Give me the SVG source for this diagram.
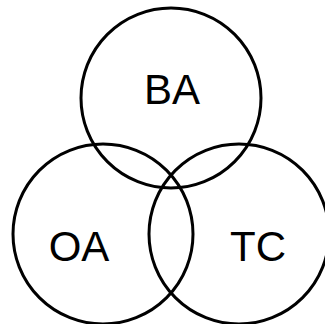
<svg xmlns="http://www.w3.org/2000/svg" width="325" height="324" viewBox="0 0 325 324">
<style>
.c{fill:none;stroke:#000;stroke-width:3}
.t{font-family:"Liberation Sans",Arial,sans-serif;font-size:42px;fill:#000;text-anchor:middle}
</style>
<rect width="325" height="324" fill="#fff"/>
<g id="BA"><circle class="c" cx="171" cy="98" r="90"/><text class="t" x="172" y="104">BA</text></g>
<g id="OA"><circle class="c" cx="103" cy="234" r="90"/><text class="t" x="79" y="261">OA</text></g>
<g id="TC"><circle class="c" cx="239" cy="234" r="90"/><text class="t" x="258" y="261">TC</text></g>
<g id="connectors"/>
</svg>
